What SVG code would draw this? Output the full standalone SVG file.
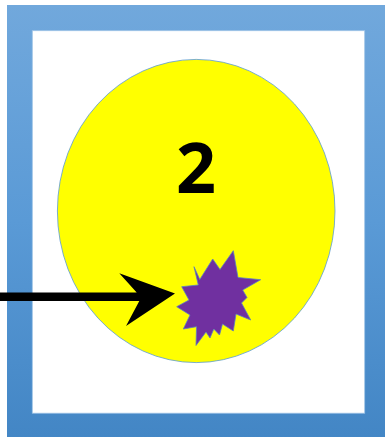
<svg xmlns="http://www.w3.org/2000/svg" width="385" height="437" viewBox="0 0 385 437">
  <defs>
    <linearGradient id="frameGrad" x1="0" y1="0" x2="0" y2="1">
      <stop offset="0" stop-color="#71A8DC"/>
      <stop offset="0.5" stop-color="#5A9AD6"/>
      <stop offset="1" stop-color="#4386C5"/>
    </linearGradient>
  </defs>
  <style>
    .frame { fill: url(#frameGrad); }
    .inner { fill: #FFFFFF; stroke: #9DC3E6; stroke-width: 0.8; }
    .cell { fill: #FFFF00; stroke: #5B9BD5; stroke-width: 0.8; }
    .label { font-family: "Open Sans", "Liberation Sans", sans-serif; font-weight: 700; font-size: 70px; fill: #000000; }
    .burst { fill: #7030A0; stroke: #5B7FC0; stroke-width: 0.8; }
    .arrow { fill: #000000; }
  </style>
  <g id="frame">
    <rect class="frame" x="7" y="5" width="378" height="432"/>
    <rect class="inner" x="32.3" y="30.7" width="332.4" height="382.5"/>
  </g>
  <g id="cell">
    <ellipse class="cell" cx="196.2" cy="211" rx="138.8" ry="151.6"/>
    <text class="label" x="196" y="193" text-anchor="middle">2</text>
  </g>
  <g id="burst">
    <polygon class="burst" points="194,266.7 199.8,279.5 212.7,259 220,269.5 233.3,250.7 238,277.5 260.7,279.7 242.7,290 247,297.5 241.5,303 250.7,320 236,314 233.3,331 222.5,324 219.5,335 213.8,329 210,338 206,332 196,345.5 196.5,326.7 183.3,329 190,315 176.7,306.7 189,300 181.7,286.7 198.3,285"/>
  </g>
  <g id="connectors">
    <path class="arrow" d="M0,292.5 L136.7,292.5 L119.3,273.3 L175,293.5 L126,326 L139.3,301 L0,301 Z"/>
  </g>
</svg>
